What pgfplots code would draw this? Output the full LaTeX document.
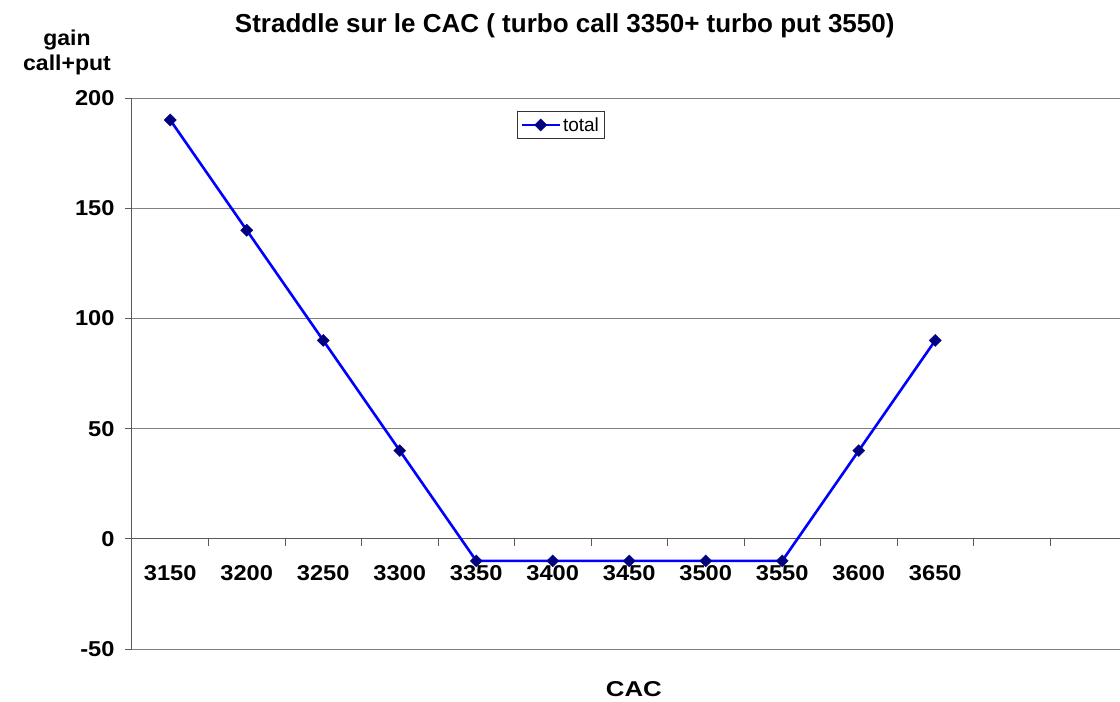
\documentclass[border=0pt]{standalone}
\usepackage{pgfplots}
\pgfplotsset{compat=1.18}
\usepackage{fontspec}
\setmainfont{Liberation Sans}
\newfontfamily\tickfont[FakeStretch=1.1]{Liberation Sans}
\newfontfamily\labfont[FakeStretch=1.2]{Liberation Sans}
\newfontfamily\ylabfont[FakeStretch=1.07]{Liberation Sans}
\definecolor{gridgray}{RGB}{128,128,128}
\definecolor{mk}{RGB}{0,0,128}
\begin{document}
\begin{tikzpicture}
\begin{axis}[
  name=ax,
  at={(0,0)}, anchor=south west,
  scale only axis,
  width=988pt, height=551pt,
  xmin=-0.5, xmax=12.415,
  ymin=-50, ymax=200,
  ytick={-50,0,50,100,150,200},
  ymajorgrids,
  major grid style={gridgray, line width=0.8pt},
  axis y line=left,
  axis x line=middle,
  axis line style={gridgray!70!black, line width=1pt, -},
  xtick={0,...,10},
  xticklabels={3150,3200,3250,3300,3350,3400,3450,3500,3550,3600,3650},
  major x tick style={draw=none},
  minor xtick={0.5,1.5,...,11.5},
  minor tick length=7pt,
  major tick length=7pt,
  tick align=outside,
  tick style={gridgray!70!black, line width=0.8pt},
  /pgf/number format/assume math mode=true,
  tick label style={font=\tickfont\fontsize{21.5}{25}\selectfont\bfseries},
  xticklabel style={yshift=-16pt},
  yticklabel style={xshift=-7pt},
  legend style={at={(0.3897,0.9765)}, anchor=north west, draw=black!80, line width=0.8pt,
    font=\fontsize{19}{23}\selectfont, inner xsep=3pt, inner ysep=4pt, row sep=0pt},
  legend image code/.code={
    \draw[#1, mark=none] (0pt,0pt) -- (38pt,0pt);
    \draw[#1, only marks] plot coordinates {(19pt,0pt)};
  },
  legend cell align=left,
  clip=false,
]
\addplot[color=blue, line width=2.6pt, mark=square*, mark size=4.3pt,
  mark options={fill=mk, draw=mk, line width=0.3pt, rotate=45}]
  coordinates {(0,190) (1,140) (2,90) (3,40) (4,-10) (5,-10) (6,-10) (7,-10) (8,-10) (9,40) (10,90)};
\addlegendentry{total}
\node[font=\fontsize{26}{30}\selectfont\bfseries] at (rel axis cs:0.438,1.131) {Straddle sur le CAC ( turbo call 3350+ turbo put 3550)};
\node[font=\ylabfont\fontsize{21.5}{25}\selectfont\bfseries, align=center] at (rel axis cs:-0.0658,1.082) {gain\\call+put};
\node[font=\labfont\fontsize{21.5}{25}\selectfont\bfseries] at (rel axis cs:0.508,-0.0735) {CAC};
\end{axis}
\pgfresetboundingbox
\path ([xshift=-132pt,yshift=-53pt]ax.south west) rectangle ([yshift=98pt]ax.north east);
\end{tikzpicture}
\end{document}
